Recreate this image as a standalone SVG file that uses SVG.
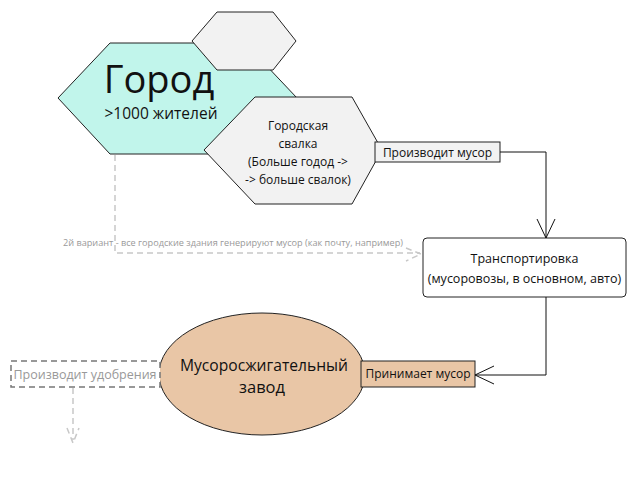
<svg xmlns="http://www.w3.org/2000/svg" width="640" height="480" viewBox="0 0 640 480">
<defs>
<style>
text{font-family:"Open Sans","Noto Sans","DejaVu Sans",sans-serif;fill:#111}
.node{stroke:#222;stroke-width:1}
.conn{fill:none;stroke:#111;stroke-width:1}
.dash{fill:none;stroke:#c8c8c8;stroke-width:1.5;stroke-dasharray:6,4}
.gray{fill:#999}
</style>
</defs>
<rect width="640" height="480" fill="#fff"/>
<g id="gorod">
<polygon class="node" points="58,98 110,43 245,43 297,98 245,154 110,154" fill="#c1f5eb"/>
<text x="159" y="93" font-size="38" text-anchor="middle">Город</text>
<text x="161" y="119" font-size="15.5" text-anchor="middle">&gt;1000 жителей</text>
</g>
<g id="hex-small">
<polygon class="node" points="192,41 217,12 273,12 296,41 273,70 217,70" fill="#f2f2f2"/>
</g>
<g id="svalka">
<polygon class="node" points="204,150 255,97 352,97 382,150 352,204 255,204" fill="#f2f2f2"/>
<text x="298" y="130" font-size="12" text-anchor="middle">Городская</text>
<text x="298" y="148" font-size="12" text-anchor="middle">свалка</text>
<text x="298" y="166" font-size="12" text-anchor="middle">(Больше годод -&gt;</text>
<text x="298" y="184" font-size="12" text-anchor="middle">-&gt; больше свалок)</text>
</g>
<g id="proizvodit-musor">
<rect class="node" x="375" y="142" width="125" height="20" fill="#f2f2f2"/>
<text x="437.5" y="157" font-size="12" text-anchor="middle">Производит мусор</text>
</g>
<g id="transport">
<rect class="node" x="423" y="238" width="203" height="59" rx="4" fill="#fff"/>
<text x="524.5" y="263" font-size="12.5" text-anchor="middle">Транспортировка</text>
<text x="524.5" y="283" font-size="12.5" text-anchor="middle">(мусоровозы, в основном, авто)</text>
</g>
<g id="zavod">
<ellipse class="node" cx="262" cy="374" rx="103" ry="61" fill="#e9c6a6"/>
<text x="264" y="371" font-size="16.5" text-anchor="middle" textLength="168" lengthAdjust="spacingAndGlyphs">Мусоросжигательный</text>
<text x="262" y="393" font-size="16.5" text-anchor="middle">завод</text>
</g>
<g id="prinimaet">
<rect class="node" x="361" y="361" width="114" height="26" fill="#e9c6a6"/>
<text x="418" y="378" font-size="12" text-anchor="middle">Принимает мусор</text>
</g>
<g id="udobreniya">
<rect x="11" y="361" width="149" height="26" fill="#fff" stroke="#777" stroke-width="1.5" stroke-dasharray="6,4"/>
<text x="85" y="379" font-size="12.5" text-anchor="middle" class="gray">Производит удобрения</text>
</g>
<g id="connectors">
<polyline class="conn" points="500,152 546,152 546,238"/>
<polyline class="conn" points="537,219 546,238 555,219"/>
<polyline class="conn" points="546,297 546,375 475,375"/>
<polyline class="conn" points="494,366 475,375 494,384"/>
<polyline class="dash" points="115,155 115,253 420,253"/>
<polyline class="dash" points="406,248 421,254 406,261" stroke-dasharray="none"/>
<line class="dash" x1="73" y1="388" x2="73" y2="440"/>
<polyline class="dash" points="67,428 73,443 79,428" stroke-dasharray="none"/>
<text x="233" y="246" font-size="9.5" text-anchor="middle" class="gray" textLength="340" lengthAdjust="spacingAndGlyphs">2й вариант - все городские здания генерируют мусор (как почту, например)</text>
</g>
</svg>
